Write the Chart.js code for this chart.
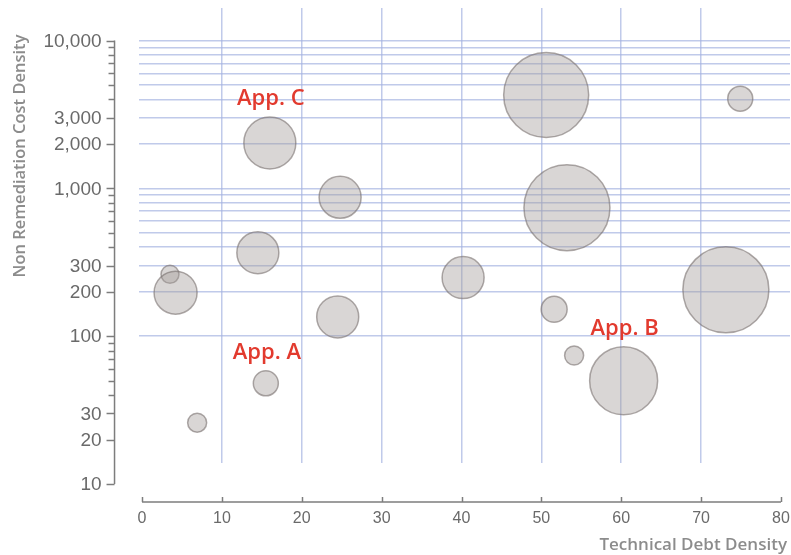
<!DOCTYPE html>
<html>
<head>
<meta charset="utf-8">
<title>Technical Debt vs Non Remediation Cost</title>
<script src="https://cdn.jsdelivr.net/npm/chart.js@4/dist/chart.umd.min.js"></script>
<style>
  html, body { margin: 0; padding: 0; background: #ffffff; }
  #wrap { width: 791px; height: 555px; position: relative; }
</style>
</head>
<body>
<div id="wrap"><canvas id="chart"></canvas></div>
<script>
// Applications: technical debt density (x), non remediation cost density (y, log),
// and bubble radius in pixels.
const debtDensity  = [3.5, 4.2, 6.9, 15.5, 16.0, 14.5, 24.8, 24.5, 40.2, 50.6, 53.2, 51.6, 54.1, 60.3, 73.1, 74.9];
const costDensity  = [262, 197, 26, 48, 2030, 367, 870, 135, 249, 4280, 740, 152, 74, 50, 206, 4040];
const bubbleRadius = [9, 21.5, 9.5, 12.5, 26, 21, 21, 21, 21, 42.5, 43, 13, 9.5, 34, 43, 12.5];

// Named applications and the bubble each name belongs to
const calloutNames = ['App. A', 'App. B', 'App. C'];
const calloutIndex = [3, 13, 4];

// Axis ticks
const xTickLabels = [0, 10, 20, 30, 40, 50, 60, 70, 80];
const xGridValues = [10, 20, 30, 40, 50, 60, 70];
const yTickLabels = [10, 20, 30, 100, 200, 300, 1000, 2000, 3000, 10000];

const xTitle = 'Technical Debt Density';
const yTitle = 'Non Remediation Cost Density';

// Horizontal grid: every 1..9 step in the 100 and 1000 decades, up to 10,000
const yGridValues = [];
for (let d = 100; d <= 1000; d *= 10) {
  for (let m = 1; m <= 9; m++) yGridValues.push(m * d);
}
yGridValues.push(10000);

// Minor tick marks on the value axis: every 1..9 step from 10 to 10,000
const yMinorValues = [];
for (let d = 10; d <= 1000; d *= 10) {
  for (let m = 1; m <= 9; m++) yMinorValues.push(m * d);
}
yMinorValues.push(10000);

const GRID = 'rgba(165,180,225,0.7)';
const AXIS = '#7d7d7d';
const LABEL = '#6a6a6a';
const TITLE = '#8c8c8c';
const CALLOUT = '#e23a2e';

const points = debtDensity.map((v, i) => ({ x: v, y: costDensity[i], r: bubbleRadius[i] }));

// Axes drawn apart from the plot area, positioned through the chart's scales
const detachedAxes = {
  id: 'detachedAxes',
  afterDatasetsDraw(chart) {
    const { ctx, scales: { x, y } } = chart;
    ctx.save();

    // Callouts centred above their bubbles
    ctx.font = '600 22px "Open Sans", "Noto Sans", sans-serif';
    ctx.fillStyle = CALLOUT;
    ctx.textAlign = 'center';
    ctx.textBaseline = 'middle';
    calloutNames.forEach((name, k) => {
      const i = calloutIndex[k];
      const cx = x.getPixelForValue(debtDensity[i]);
      const cy = y.getPixelForValue(costDensity[i]);
      ctx.fillText(name, cx + 1, cy - bubbleRadius[i] - 18);
    });
    ctx.restore();
  },
  afterDraw(chart) {
    const { ctx, scales: { x, y } } = chart;
    const axisX = x.getPixelForValue(0) - 27.5;
    const axisY = y.getPixelForValue(10) + 18;
    ctx.save();
    ctx.strokeStyle = AXIS;
    ctx.lineWidth = 1.5;

    // Value axis line
    const yTop = y.getPixelForValue(10000);
    const yBot = y.getPixelForValue(10);
    ctx.beginPath();
    ctx.moveTo(axisX, yTop);
    ctx.lineTo(axisX, yBot);
    ctx.stroke();

    // Minor and major ticks
    yMinorValues.forEach(v => {
      const py = Math.round(y.getPixelForValue(v)) + 0.5;
      const major = yTickLabels.includes(v);
      ctx.beginPath();
      ctx.moveTo(axisX - (major ? 8 : 6), py);
      ctx.lineTo(axisX, py);
      ctx.stroke();
    });

    ctx.fillStyle = LABEL;
    ctx.font = '19px "Liberation Sans", Arial, sans-serif';
    ctx.textAlign = 'right';
    ctx.textBaseline = 'middle';
    yTickLabels.forEach(v => {
      ctx.fillText(v.toLocaleString('en-US'), axisX - 13, y.getPixelForValue(v) + 1);
    });

    // Category axis line and ticks
    const x0 = x.getPixelForValue(xTickLabels[0]);
    const x1 = x.getPixelForValue(xTickLabels[xTickLabels.length - 1]);
    ctx.beginPath();
    ctx.moveTo(x0, axisY);
    ctx.lineTo(x1, axisY);
    ctx.stroke();
    xTickLabels.forEach(v => {
      const px = Math.round(x.getPixelForValue(v)) + 0.5;
      ctx.beginPath();
      ctx.moveTo(px, axisY);
      ctx.lineTo(px, axisY - 5);
      ctx.stroke();
    });

    ctx.fillStyle = LABEL;
    ctx.font = '16px "Liberation Sans", Arial, sans-serif';
    ctx.textAlign = 'center';
    ctx.textBaseline = 'middle';
    xTickLabels.forEach(v => {
      ctx.fillText(String(v), x.getPixelForValue(v), axisY + 17);
    });

    // Axis titles
    ctx.fillStyle = TITLE;
    ctx.font = '600 17px "Open Sans", "Noto Sans", sans-serif';
    ctx.textAlign = 'right';
    ctx.textBaseline = 'middle';
    ctx.fillText(xTitle, x1 + 6, axisY + 43);

    ctx.font = '600 16.5px "Open Sans", "Noto Sans", sans-serif';
    ctx.translate(20, yTop - 6);
    ctx.rotate(-Math.PI / 2);
    ctx.textAlign = 'right';
    ctx.fillText(yTitle, 0, 0);
    ctx.restore();
  }
};

new Chart(document.getElementById('chart'), {
  type: 'bubble',
  data: {
    datasets: [{
      data: points,
      backgroundColor: 'rgba(165,157,155,0.42)',
      borderColor: 'rgba(120,112,110,0.6)',
      borderWidth: 1.5,
      hoverBorderWidth: 1.5
    }]
  },
  options: {
    responsive: true,
    maintainAspectRatio: false,
    devicePixelRatio: 1,
    animation: false,
    events: [],
    layout: { autoPadding: false, padding: { left: 139, right: 1, top: 8, bottom: 92 } },
    plugins: {
      legend: { display: false },
      tooltip: { enabled: false }
    },
    scales: {
      x: {
        type: 'linear',
        min: -0.38,
        max: 81.13,
        afterBuildTicks: s => { s.ticks = xGridValues.map(v => ({ value: v })); },
        ticks: { display: false },
        border: { display: false },
        grid: { color: GRID, lineWidth: 1.5, drawTicks: false }
      },
      y: {
        type: 'logarithmic',
        min: 13.87,
        max: 16596,
        afterBuildTicks: s => { s.ticks = yGridValues.map(v => ({ value: v })); },
        ticks: { display: false },
        border: { display: false },
        grid: { color: GRID, lineWidth: 1.5, drawTicks: false }
      }
    }
  },
  plugins: [detachedAxes]
});
</script>
</body>
</html>
